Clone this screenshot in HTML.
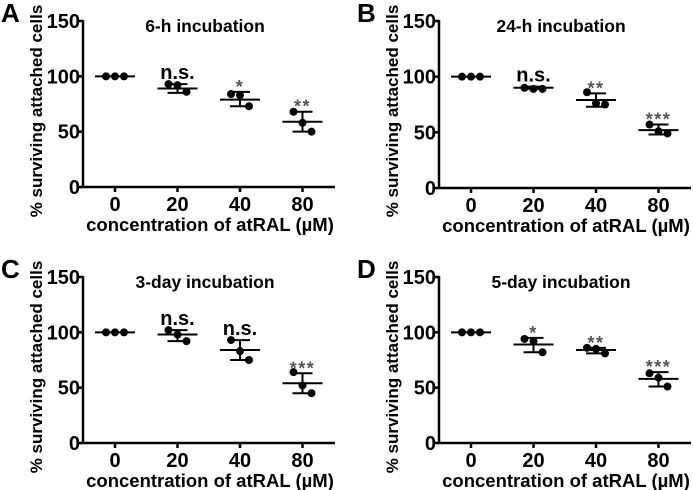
<!DOCTYPE html>
<html><head><meta charset="utf-8"><style>
body{margin:0;background:#fff;}
svg{display:block;font-family:"Liberation Sans",Arial,sans-serif;font-weight:bold;}
</style></head><body>
<svg id="chart" width="693" height="490" viewBox="0 0 693 490"></svg>
<script>
const categories = ["0","20","40","80"];
const yTicks = [0,50,100,150];
const panelLetters = ["A","B","C","D"];
const panelTitles = ["6-h incubation","24-h incubation","3-day incubation","5-day incubation"];
const sigA = ["","n.s.","*","**"];
const sigB = ["","n.s.","**","***"];
const sigC = ["","n.s.","n.s.","***"];
const sigD = ["","*","**","***"];
const ptsA = [[100,100,100],[93,92,86],[84,83,73],[68,58,50]];
const ptsB = [[100,100,100],[90,89,89],[86,76,75],[57,51,49]];
const ptsC = [[100,100,100],[102,98,92],[93,83,75],[64,52,45]];
const ptsD = [[100,100,100],[94,92,82],[86,85,81],[63,59,51]];
const meanA = [100,89,79,59], errA = [[100,100],[85,93],[73,86],[50,68]];
const meanB = [100,90,79,52], errB = [[100,100],[89,91],[73,85],[48,57]];
const meanC = [100,98,84,54], errC = [[100,100],[92,102],[75,93],[45,63]];
const meanD = [100,89,84,58], errD = [[100,100],[82,95],[81,86],[51,64]];
const jitter = [-9,0,9];

const svg = document.getElementById('chart');
const NS = "http://www.w3.org/2000/svg";
function mk(tag, attrs, parent){const e=document.createElementNS(NS,tag);for(const k in attrs)e.setAttribute(k,attrs[k]);(parent||svg).appendChild(e);return e;}

const panels = [
 {ox:83, top:21, bot:187, pts:ptsA, mean:meanA, err:errA, sig:sigA},
 {ox:439, top:21, bot:188, pts:ptsB, mean:meanB, err:errB, sig:sigB},
 {ox:83, top:277, bot:443, pts:ptsC, mean:meanC, err:errC, sig:sigC},
 {ox:439, top:277, bot:443, pts:ptsD, mean:meanD, err:errD, sig:sigD}
];

panels.forEach((p,pi)=>{
  const g = mk('g',{});
  
  
  const y = v => p.bot - (v/150)*(p.bot-p.top);
  const x = i => p.ox + 32 + i*62.5;
  const xEnd = p.ox + 252;
  const ya = mk('line',{x1:p.ox,y1:p.top-1,x2:p.ox,y2:p.bot+1,stroke:'#000','stroke-width':2.5},g);
  
  
  const xa = mk('line',{x1:p.ox-1,y1:p.bot,x2:xEnd,y2:p.bot,stroke:'#000','stroke-width':2.5},g);
  
  
  yTicks.forEach(t=>{
    mk('line',{x1:p.ox-5,y1:y(t),x2:p.ox,y2:y(t),stroke:'#000','stroke-width':2.5},g);
    const tl = mk('text',{x:p.ox-3,y:y(t)+7,'text-anchor':'end','font-size':20},g);
    tl.textContent=t;
    
    
  });
  categories.forEach((c,i)=>{
    mk('line',{x1:x(i),y1:p.bot,x2:x(i),y2:p.bot+5,stroke:'#000','stroke-width':2.5},g);
    const tl = mk('text',{x:x(i),y:p.bot+24,'text-anchor':'middle','font-size':20},g);
    tl.textContent=c;
    
    
    const ml = mk('line',{x1:x(i)-20,y1:y(p.mean[i]),x2:x(i)+20,y2:y(p.mean[i]),stroke:'#000','stroke-width':2},g);
    
    
    if(i>0){
      const [lo,hi]=p.err[i];
      const eb = mk('path',{d:`M${x(i)} ${y(lo)}V${y(hi)}M${x(i)-10} ${y(lo)}H${x(i)+10}M${x(i)-10} ${y(hi)}H${x(i)+10}`,stroke:'#000','stroke-width':2,fill:'none'},g);
      
      
      const ns = p.sig[i]==='n.s.';
      const st = mk('text',{x:x(i),y:ns?y(hi)-5:y(hi)+1,'text-anchor':'middle','font-size':ns?20:18,fill:ns?'#000':'#555','letter-spacing':ns?0:1.5},g);
      st.textContent=p.sig[i];
      
      
    }
    p.pts[i].forEach((v,k)=>{
      const d = mk('circle',{cx:x(i)+jitter[k],cy:y(v),r:4,fill:'#000'},g);
      
      
    });
  });
  const tt = mk('text',{x:p.ox+122,y:p.top+11,'text-anchor':'middle','font-size':17.5},g);
  tt.textContent=panelTitles[pi];
  
  
  const lt = mk('text',{x:p.ox-82,y:p.top+1,'font-size':26},g);
  lt.textContent=panelLetters[pi];
  
  
  const xt = mk('text',{x:p.ox+127,y:p.bot+44,'text-anchor':'middle','font-size':18.5},g);
  xt.textContent='concentration of atRAL (µM)';
  
  
  const cy=p.top+90;
  const yt = mk('text',{x:p.ox-41,y:cy,'text-anchor':'middle','font-size':17,transform:`rotate(-90 ${p.ox-41} ${cy})`},g);
  yt.textContent='% surviving attached cells';
  
  
});
</script>
</body></html>
